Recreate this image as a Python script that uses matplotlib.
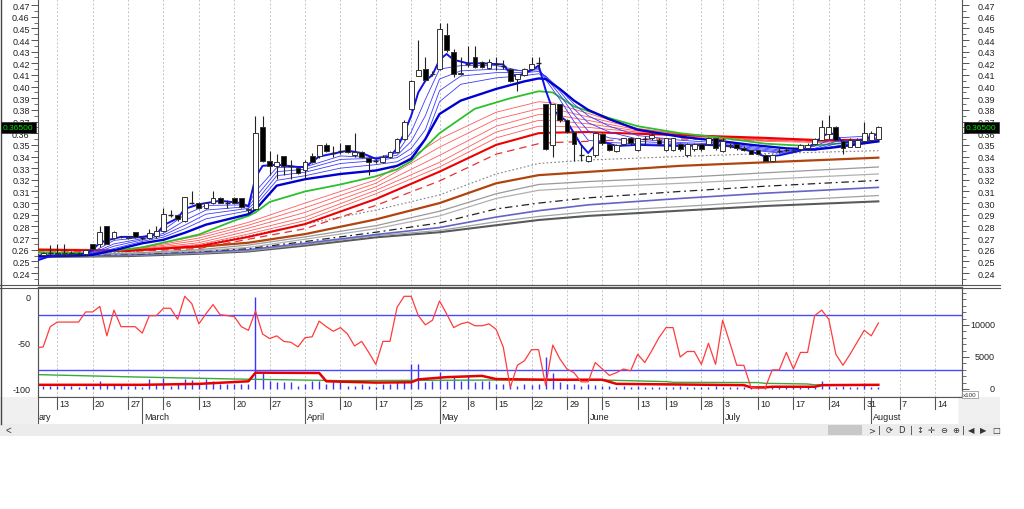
import numpy as np
import matplotlib
matplotlib.use("Agg")
import matplotlib.pyplot as plt
from matplotlib.patches import Rectangle
from matplotlib.lines import Line2D
from matplotlib.ticker import FixedLocator, MultipleLocator, FormatStrFormatter

plt.rcParams['font.family'] = ['Liberation Sans', 'DejaVu Sans']

# ---- daily bars (index 0 = 13 Feb), first bar is index -3 ----
first_day = -3
opens = [0.2550, 0.2555, 0.2570, 0.2570, 0.2560, 0.2570, 0.2560, 0.2560, 0.2650, 0.2650,
         0.2800, 0.2700, 0.2710, 0.2705, 0.2750, 0.2700, 0.2700, 0.2720, 0.2760, 0.2900,
         0.2900, 0.2850, 0.3000, 0.3000, 0.2960, 0.3000, 0.3040, 0.3000, 0.3040, 0.3040,
         0.2940, 0.2950, 0.3650, 0.3360, 0.3315, 0.3405, 0.3320, 0.3300, 0.3280, 0.3405,
         0.3405, 0.3495, 0.3430, 0.3450, 0.3500, 0.3410, 0.3435, 0.3390, 0.3360, 0.3350,
         0.3400, 0.3440, 0.3550, 0.3810, 0.4095, 0.4150, 0.4110, 0.4150, 0.4445, 0.4300,
         0.4110, 0.4195, 0.4255, 0.4210, 0.4160, 0.4195, 0.4180, 0.4150, 0.4065, 0.4100,
         0.4150, 0.4200, 0.3850, 0.3500, 0.3850, 0.3710, 0.3610, 0.3410, 0.3360, 0.3410,
         0.3590, 0.3505, 0.3450, 0.3505, 0.3555, 0.3460, 0.3550, 0.3555, 0.3545, 0.3460,
         0.3460, 0.3505, 0.3410, 0.3465, 0.3505, 0.3505, 0.3555, 0.3450, 0.3500, 0.3505,
         0.3470, 0.3455, 0.3455, 0.3410, 0.3365, 0.3450, 0.3455, 0.3455, 0.3465, 0.3470,
         0.3505, 0.3545, 0.3595, 0.3655, 0.3530, 0.3485, 0.3485, 0.3530, 0.3545, 0.3550]
highs = [0.2570, 0.2580, 0.2640, 0.2650, 0.2650, 0.2590, 0.2580, 0.2600, 0.2650, 0.2800,
         0.2805, 0.2760, 0.2720, 0.2715, 0.2750, 0.2710, 0.2780, 0.2800, 0.2960, 0.2940,
         0.2910, 0.3050, 0.3100, 0.3010, 0.3010, 0.3100, 0.3050, 0.3030, 0.3050, 0.3040,
         0.2960, 0.3750, 0.3750, 0.3450, 0.3420, 0.3405, 0.3370, 0.3310, 0.3370, 0.3430,
         0.3500, 0.3520, 0.3490, 0.3520, 0.3500, 0.3605, 0.3450, 0.3400, 0.3380, 0.3410,
         0.3450, 0.3560, 0.3710, 0.4060, 0.4400, 0.4250, 0.4130, 0.4550, 0.4550, 0.4320,
         0.4250, 0.4350, 0.4350, 0.4220, 0.4240, 0.4250, 0.4230, 0.4160, 0.4110, 0.4160,
         0.4250, 0.4250, 0.3850, 0.3850, 0.3850, 0.3720, 0.3610, 0.3500, 0.3410, 0.3610,
         0.3600, 0.3510, 0.3510, 0.3560, 0.3570, 0.3560, 0.3580, 0.3600, 0.3560, 0.3560,
         0.3560, 0.3520, 0.3520, 0.3520, 0.3520, 0.3570, 0.3560, 0.3560, 0.3520, 0.3510,
         0.3490, 0.3460, 0.3460, 0.3420, 0.3420, 0.3470, 0.3470, 0.3470, 0.3510, 0.3520,
         0.3560, 0.3710, 0.3760, 0.3660, 0.3540, 0.3560, 0.3560, 0.3700, 0.3620, 0.3660]
lows = [0.2540, 0.2550, 0.2550, 0.2560, 0.2550, 0.2550, 0.2550, 0.2550, 0.2600, 0.2620,
        0.2650, 0.2690, 0.2700, 0.2695, 0.2700, 0.2680, 0.2690, 0.2700, 0.2750, 0.2880,
        0.2850, 0.2840, 0.2990, 0.2950, 0.2950, 0.2990, 0.3000, 0.2960, 0.2990, 0.2960,
        0.2910, 0.2940, 0.3350, 0.3240, 0.3210, 0.3240, 0.3210, 0.3250, 0.3210, 0.3340,
        0.3390, 0.3440, 0.3400, 0.3420, 0.3430, 0.3400, 0.3390, 0.3240, 0.3340, 0.3340,
        0.3390, 0.3430, 0.3540, 0.3800, 0.4090, 0.4050, 0.4090, 0.4140, 0.4300, 0.4080,
        0.4100, 0.4170, 0.4160, 0.4160, 0.4150, 0.4140, 0.4150, 0.4040, 0.3965, 0.4090,
        0.4140, 0.4150, 0.3460, 0.3400, 0.3700, 0.3600, 0.3360, 0.3360, 0.3350, 0.3400,
        0.3500, 0.3450, 0.3440, 0.3500, 0.3500, 0.3450, 0.3500, 0.3540, 0.3500, 0.3450,
        0.3450, 0.3450, 0.3400, 0.3450, 0.3450, 0.3500, 0.3460, 0.3440, 0.3470, 0.3460,
        0.3450, 0.3420, 0.3420, 0.3360, 0.3360, 0.3430, 0.3440, 0.3440, 0.3460, 0.3460,
        0.3500, 0.3540, 0.3550, 0.3540, 0.3420, 0.3480, 0.3480, 0.3520, 0.3540, 0.3545]
closes = [0.2560, 0.2570, 0.2570, 0.2560, 0.2570, 0.2560, 0.2560, 0.2600, 0.2610, 0.2755,
          0.2650, 0.2755, 0.2705, 0.2700, 0.2705, 0.2700, 0.2745, 0.2760, 0.2905, 0.2900,
          0.2860, 0.3050, 0.3000, 0.2960, 0.3000, 0.3040, 0.3005, 0.3000, 0.3000, 0.2965,
          0.2950, 0.3605, 0.3360, 0.3320, 0.3355, 0.3320, 0.3320, 0.3260, 0.3355, 0.3355,
          0.3495, 0.3450, 0.3430, 0.3450, 0.3435, 0.3435, 0.3400, 0.3350, 0.3360, 0.3400,
          0.3440, 0.3550, 0.3700, 0.4050, 0.4140, 0.4060, 0.4105, 0.4495, 0.4310, 0.4110,
          0.4120, 0.4195, 0.4165, 0.4165, 0.4210, 0.4195, 0.4180, 0.4050, 0.4110, 0.4150,
          0.4190, 0.4200, 0.3465, 0.3850, 0.3710, 0.3610, 0.3510, 0.3410, 0.3405, 0.3605,
          0.3515, 0.3460, 0.3500, 0.3555, 0.3515, 0.3555, 0.3550, 0.3585, 0.3510, 0.3555,
          0.3555, 0.3465, 0.3505, 0.3505, 0.3465, 0.3555, 0.3470, 0.3535, 0.3490, 0.3470,
          0.3460, 0.3425, 0.3425, 0.3365, 0.3410, 0.3450, 0.3455, 0.3460, 0.3500, 0.3500,
          0.3550, 0.3655, 0.3655, 0.3545, 0.3475, 0.3545, 0.3545, 0.3600, 0.3600, 0.3650]
# volume in units of 100 shares
volume = [500, 520, 400, 520, 400, 400, 260, 520, 520, 1200,
          780, 600, 600, 520, 520, 260, 1560, 780, 1670, 520,
          780, 1560, 1450, 780, 1560, 1300, 780, 850, 780, 780,
          780, 14300, 2450, 1300, 1040, 1040, 1040, 520, 850, 1300,
          1300, 780, 1040, 1040, 520, 520, 780, 520, 260, 780,
          780, 1040, 1300, 3900, 3900, 1040, 1300, 2600, 1300, 2080,
          1300, 2080, 1040, 1300, 1300, 780, 780, 780, 520, 780,
          650, 780, 4950, 2450, 1040, 780, 780, 520, 780, 650,
          520, 520, 360, 520, 360, 520, 260, 260, 260, 260,
          360, 520, 360, 360, 360, 360, 520, 360, 360, 260,
          260, 260, 150, 150, 360, 360, 520, 360, 360, 520,
          360, 1300, 520, 360, 520, 360, 360, 940, 360, 360]
williams_r = [-56, -55, -33, -28, -28, -28, -28, -17, -17, -11,
              -43, -15, -33, -33, -33, -40, -21, -21, -13, -13,
              -25, 0, -8, -30, -19, -9, -20, -21, -22, -33,
              -37, -16, -41, -46, -43, -49, -50, -55, -45, -44,
              -27, -33, -38, -34, -41, -54, -49, -61, -74, -49,
              -49, -12, 0, 0, -21, -31, -26, -5, -19, -34,
              -30, -28, -32, -32, -30, -36, -55, -99, -75, -70,
              -58, -58, -97, -53, -68, -79, -83, -93, -93, -72,
              -79, -86, -83, -79, -81, -63, -72, -59, -45, -34,
              -34, -66, -60, -60, -74, -51, -74, -26, -50, -75,
              -75, -99, -100, -100, -80, -80, -61, -79, -61, -61,
              -21, -15, -25, -63, -75, -63, -50, -37, -43, -29]
days = np.arange(first_day, first_day + len(closes))

# ---- moving averages (bar index, price) ----
fast_days = [-3, -1, 2, 4, 5, 6, 7, 9, 12, 14, 15, 17, 18, 20, 23, 26, 27, 28, 29, 31,
             34, 35, 37, 41, 43, 45, 47, 48, 49, 50, 51, 52, 53, 54, 55, 56, 58, 60, 63, 64,
             65, 67, 68, 69, 70, 72, 74, 75, 76, 77, 79, 82, 88, 92, 95, 98, 100, 102, 105, 107,
             108, 109, 110, 111, 113, 115, 116]
blue_fast = [.2505, .2545, .2555, .2565, .2600, .2660, .2680, .2710, .2710, .2730,
             .2810, .2870, .2950, .2990, .3020, .3000, .2970, .3220, .3320, .3330,
             .3310, .3310, .3400, .3450, .3430, .3380, .3400, .3470, .3600, .3750,
             .3950, .4050, .4100, .4230, .4280, .4230, .4200, .4200, .4190, .4110,
             .4090, .4140, .4180, .3970, .3800, .3700, .3500, .3430, .3500, .3530,
             .3490, .3500, .3490, .3500, .3490, .3445, .3400, .3410, .3450, .3510,
             .3570, .3600, .3590, .3520, .3530, .3570, .3600]

blue_days = [-3, 3, 5, 8, 12, 15, 18, 21, 27, 28, 31, 35, 40, 45, 48, 50, 52, 54, 57, 62,
             66, 68, 69, 71, 73, 75, 78, 82, 88, 94, 98, 103, 107, 110, 116]
blue_2 = [.2525, .2557, .2580, .2680, .2705, .2770, .2900, .2980, .2985, .3100, .3305, .3310,
          .3405, .3390, .3430, .3610, .3890, .4150, .4180, .4180, .4130, .4160, .4060, .3890,
          .3700, .3540, .3520, .3510, .3500, .3490, .3455, .3425, .3490, .3560, .3580]
blue_3 = [.2535, .2556, .2570, .2650, .2695, .2740, .2850, .2940, .2970, .3050, .3270, .3290,
          .3375, .3385, .3410, .3530, .3750, .4065, .4135, .4150, .4135, .4145, .4080, .3930,
          .3760, .3620, .3560, .3530, .3510, .3495, .3465, .3430, .3470, .3530, .3560]
blue_4 = [.2540, .2555, .2565, .2630, .2685, .2725, .2810, .2905, .2955, .3010, .3235, .3265,
          .3340, .3365, .3390, .3470, .3630, .3965, .4090, .4120, .4120, .4130, .4090, .3960,
          .3810, .3690, .3610, .3550, .3520, .3505, .3475, .3440, .3460, .3510, .3550]
blue_5 = [.2545, .2553, .2560, .2610, .2672, .2708, .2780, .2865, .2935, .2980, .3195, .3235,
          .3300, .3330, .3355, .3420, .3550, .3870, .4020, .4075, .4095, .4110, .4090, .3980,
          .3850, .3750, .3660, .3580, .3540, .3515, .3485, .3450, .3455, .3490, .3540]
blue_slow = [.2545, .2550, .2556, .2595, .2655, .2685, .2745, .2815, .2905, .2945, .3150, .3205,
             .3250, .3280, .3320, .3380, .3550, .3765, .3880, .3980, .4045, .4070, .4065, .3980,
             .3880, .3800, .3720, .3630, .3570, .3530, .3500, .3470, .3460, .3480, .3530]

green_days = [-3, 5, 12, 20, 25, 27, 28, 30, 35, 40, 45, 48, 50, 54, 59, 64, 68, 70, 73, 78,
              82, 88, 94, 100, 106, 110, 116]
green_ma = [.2580, .2570, .2620, .2730, .2850, .2890, .2920, .3010, .3100, .3160, .3230, .3290,
            .3360, .3600, .3810, .3900, .3960, .3950, .3830, .3730, .3660, .3600, .3560, .3510,
            .3490, .3510, .3530]

red_days = [-3, 10, 20, 27, 35, 45, 54, 62, 68, 70, 75, 82, 90, 100, 108, 116]
red_1 = [.2595, .2600, .2720, .2835, .3000, .3200, .3550, .3780, .3870, .3860, .3770, .3640, .3570, .3530, .3520, .3550]
red_2 = [.2595, .2598, .2700, .2810, .2960, .3170, .3480, .3720, .3810, .3810, .3740, .3640, .3580, .3540, .3530, .3550]
red_3 = [.2595, .2596, .2680, .2785, .2920, .3140, .3410, .3660, .3760, .3760, .3710, .3630, .3580, .3540, .3530, .3540]
red_4 = [.2595, .2594, .2660, .2760, .2880, .3110, .3350, .3610, .3710, .3710, .3680, .3620, .3580, .3550, .3530, .3540]
red_5 = [.2595, .2592, .2645, .2735, .2850, .3080, .3310, .3560, .3660, .3660, .3650, .3610, .3580, .3550, .3540, .3540]
red_thick = [.2600, .2590, .2630, .2710, .2820, .3035, .3270, .3500, .3600, .3605, .3610, .3595, .3580, .3560, .3540, .3545]
red_dash = [.2590, .2585, .2610, .2690, .2780, .2980, .3190, .3420, .3510, .3520, .3530, .3550, .3550, .3540, .3530, .3530]

long_days = [-3, 10, 20, 27, 35, 45, 54, 62, 68, 75, 88, 100, 116]
gray_dotted = [.2560, .2580, .2640, .2720, .2820, .2940, .3070, .3250, .3340, .3370, .3400, .3425, .3450]
brown_ma = [.2600, .2595, .2625, .2660, .2734, .2860, .3000, .3170, .3240, .3268, .3320, .3350, .3390]
gray_1 = [.2565, .2570, .2600, .2640, .2710, .2806, .2930, .3080, .3160, .3185, .3220, .3260, .3310]
gray_2 = [.2558, .2565, .2590, .2620, .2690, .2780, .2890, .3040, .3110, .3135, .3170, .3205, .3250]
black_dashdot = [.2552, .2560, .2585, .2610, .2670, .2750, .2830, .2950, .3000, .3045, .3100, .3145, .3195]
slate_ma = [.2548, .2555, .2578, .2600, .2655, .2730, .2790, .2880, .2935, .2985, .3040, .3085, .3135]
gray_3 = [.2543, .2550, .2570, .2590, .2645, .2720, .2765, .2840, .2885, .2925, .2970, .3015, .3065]
dark_gray = [.2537, .2545, .2565, .2585, .2635, .2706, .2750, .2810, .2855, .2890, .2935, .2975, .3015]

# volume averages in the lower pane (x100)
vma_red_days = [-3, 12, 20, 27, 28, 37, 38, 45, 50, 51, 55, 60, 62, 69, 77, 79, 97, 98, 100, 101, 107, 108, 116]
vma_red = [650, 650, 800, 1200, 2550, 2500, 1200, 1000, 1050, 1500, 1850, 2050, 1550, 1450, 1450,
           800, 600, 250, 250, 350, 350, 600, 650]
vma_green_days = [-3, 10, 25, 40, 62, 77, 86, 87, 99, 100, 106, 107, 116]
vma_green = [2250, 1900, 1560, 1300, 1400, 1400, 1150, 1040, 1000, 880, 780, 650, 650]
vol_ticks = [0, 5000, 10000]

# date axis
tick_days = [0, 5, 10, 15, 20, 25, 30, 35, 40, 45, 50, 54, 58, 62, 67, 72, 77, 82, 86, 91,
             94, 99, 104, 109, 114, 119, 124]
tick_labels = ['13', '20', '27', '6', '13', '20', '27', '3', '10', '17', '25', '2', '8', '15',
               '22', '29', '5', '13', '19', '28', '3', '10', '17', '24', '31', '7', '14']
month_days = [12, 35, 54, 75, 94, 115]
month_names = ['March', 'April', 'May', 'June', 'July', 'August']
last_price = 0.365

W, H = 1024, 510
fig = plt.figure(figsize=(W / 100, H / 100), dpi=100)


def box(x0, y0, x1, y1):
    return [x0 / W, 1 - y1 / H, (x1 - x0) / W, (y1 - y0) / H]


XL = (-2.73, 127.82)
TXT = '#222222'
SP = '#555555'

# ================= price pane =================
ax = fig.add_axes(box(38, 0, 962, 286))
ax.set_xlim(XL)
ax.set_ylim(0.2297, 0.4752)
for t in tick_days:
    ax.axvline(t, color='#c4c4c4', lw=0.7, ls=(0, (2, 2)), zorder=0)

ma_style = [
    (long_days, dark_gray, dict(color='#5a5a5a', lw=1.5)),
    (long_days, gray_3, dict(color='#9aa4a4', lw=0.9)),
    (long_days, slate_ma, dict(color='#6464c8', lw=1.2)),
    (long_days, black_dashdot, dict(color='#222222', lw=0.9, ls=(0, (6, 3, 1.5, 3)))),
    (long_days, gray_2, dict(color='#b0b0b0', lw=0.9)),
    (long_days, gray_1, dict(color='#9a9a9a', lw=0.9)),
    (long_days, brown_ma, dict(color='#b0440e', lw=1.6)),
    (long_days, gray_dotted, dict(color='#808080', lw=0.8, ls=(0, (1.5, 2)))),
    (red_days, red_dash, dict(color='#e83030', lw=0.9, ls=(0, (6, 4)))),
    (red_days, red_5, dict(color='#ff5a5a', lw=0.6)),
    (red_days, red_4, dict(color='#ff5a5a', lw=0.6)),
    (red_days, red_3, dict(color='#ff5a5a', lw=0.6)),
    (red_days, red_2, dict(color='#ff5a5a', lw=0.6)),
    (red_days, red_1, dict(color='#ff5a5a', lw=0.6)),
    (red_days, red_thick, dict(color='#ee0000', lw=1.5)),
    (green_days, green_ma, dict(color='#2cc02c', lw=1.3)),
    (blue_days, blue_5, dict(color='#3a3aff', lw=0.6)),
    (blue_days, blue_4, dict(color='#3a3aff', lw=0.6)),
    (blue_days, blue_3, dict(color='#3a3aff', lw=0.6)),
    (blue_days, blue_2, dict(color='#3a3aff', lw=0.6)),
    (blue_days, blue_slow, dict(color='#0000d0', lw=1.7)),
    (fast_days, blue_fast, dict(color='#1010e8', lw=1.4)),
]
for xs, ys, kw in ma_style:
    ax.plot(xs, ys, zorder=3, **kw)

for d, o, hi, lo, c in zip(days, opens, highs, lows, closes):
    ax.vlines(d, lo, hi, color='#222222', lw=0.8, zorder=5)
    if abs(c - o) < 1e-6:
        ax.hlines(o, d - 0.36, d + 0.36, color='#222222', lw=1.0, zorder=6)
    else:
        fc = 'white' if c > o else 'black'
        ax.add_patch(Rectangle((d - 0.34, min(o, c)), 0.68, abs(c - o), facecolor=fc,
                               edgecolor='#333333', lw=0.7, zorder=6))

ax.yaxis.set_major_locator(FixedLocator(np.arange(0.24, 0.4701, 0.01)))
ax.yaxis.set_minor_locator(MultipleLocator(0.005))
ax.yaxis.set_major_formatter(FormatStrFormatter('%.2f'))
ax.tick_params(axis='y', which='major', length=5, width=0.7, labelsize=6.5, pad=1,
               colors=SP, labelcolor=TXT, direction='out')
ax.tick_params(axis='y', which='minor', length=3, width=0.6, colors=SP, direction='out')
ax.tick_params(axis='x', bottom=False, labelbottom=False)
for s in ['top', 'right']:
    ax.spines[s].set_visible(False)
for s in ['left', 'bottom']:
    ax.spines[s].set_color(SP)
    ax.spines[s].set_linewidth(0.8)

axr = ax.twinx()
axr.set_ylim(ax.get_ylim())
axr.yaxis.set_major_locator(FixedLocator(np.arange(0.24, 0.4701, 0.01)))
axr.yaxis.set_minor_locator(MultipleLocator(0.005))
axr.yaxis.set_major_formatter(FormatStrFormatter('%.2f'))
axr.tick_params(axis='y', which='major', length=5, width=0.7, labelsize=6.5, pad=6,
                colors=SP, labelcolor=TXT, direction='out')
axr.tick_params(axis='y', which='minor', length=3, width=0.6, colors=SP, direction='out')
for s in ['top', 'left', 'bottom']:
    axr.spines[s].set_visible(False)
axr.spines['right'].set_color(SP)
axr.spines['right'].set_linewidth(0.8)

# last price flags
py_last = 1 - (6 + (0.47 - last_price) * 1165.2) / H
for xf in (3 / W, 966 / W):
    fig.text(xf, py_last, f'{last_price:.5f}', color='#00e000', fontsize=6, ha='left',
             va='center', zorder=20,
             bbox=dict(boxstyle='square,pad=0.25', fc='black', ec='#303030', lw=0.5))

# ================= oscillator / volume pane =================
ax2 = fig.add_axes(box(38, 288.3, 962, 398.3))
ax2v = ax2.twinx()
ax2.set_zorder(ax2v.get_zorder() + 1)
ax2.patch.set_visible(False)
ax2.set_xlim(XL)
ax2v.set_xlim(XL)
ax2.set_ylim(-109.8, 9.8)
ax2v.set_ylim(-1300, 15890)
for t in tick_days:
    ax2v.axvline(t, color='#c4c4c4', lw=0.7, ls=(0, (2, 2)), zorder=0)

ax2v.vlines(days, 0, volume, color='#3535ff', lw=1.0, zorder=2)
ax2v.plot(vma_green_days, vma_green, color='#3aa83a', lw=1.0, zorder=3)
ax2v.plot(vma_red_days, vma_red, color='#e80000', lw=1.8, zorder=3)

ax2.axhline(-20, color='#4848ff', lw=1.0, zorder=2)
ax2.axhline(-80, color='#4848ff', lw=1.0, zorder=2)
ax2.plot(days, williams_r, color='#ff3c3c', lw=0.9, zorder=4)

ax2.set_yticks([0, -50, -100])
ax2.set_yticklabels(['0', '-50', '-100'])
ax2.tick_params(axis='y', length=0, pad=5, labelsize=6.5, labelcolor=TXT)
ax2.tick_params(axis='x', bottom=False, labelbottom=False)
ax2v.set_yticks(vol_ticks)
ax2v.yaxis.set_minor_locator(MultipleLocator(1000))
ax2v.tick_params(axis='y', which='major', length=5, width=0.7, colors=SP, labelright=False)
ax2v.tick_params(axis='y', which='minor', length=3, width=0.6, colors=SP)
# right-aligned volume labels, as in the source chart
for v in vol_ticks:
    ax2v.text(1 + 33 / 924, v, f'{v}', transform=ax2v.get_yaxis_transform(), ha='right',
              va='center', fontsize=6.5, color=TXT, clip_on=False)
for a in (ax2, ax2v):
    for s in a.spines.values():
        s.set_color(SP)
        s.set_linewidth(0.8)
fig.text(963 / W, 1 - 395.5 / H, 'x100', fontsize=4.5, color='#333333', ha='left', va='center',
         bbox=dict(boxstyle='square,pad=0.15', fc='white', ec='#888888', lw=0.5))

# ================= date axis =================
fig.patches.append(Rectangle((0, 1 - 425 / H), 38 / W, 27 / H, transform=fig.transFigure,
                             fc='#f0f0f0', ec='none', zorder=0))
fig.patches.append(Rectangle((959 / W, 1 - 425 / H), 41 / W, 27 / H, transform=fig.transFigure,
                             fc='#f0f0f0', ec='none', zorder=0))
ax3 = fig.add_axes(box(38, 398.3, 959, 425))
ax3.set_xlim(XL[0], 127.39)
ax3.set_ylim(0, 1)
ax3.set_xticks([])
ax3.set_yticks([])
for s in ['top', 'bottom']:
    ax3.spines[s].set_visible(False)
for s in ['left', 'right']:
    ax3.spines[s].set_color(SP)
    ax3.spines[s].set_linewidth(0.8)
for t, lab in zip(tick_days, tick_labels):
    ax3.plot([t, t], [0.55, 1], color=SP, lw=0.8)
    ax3.text(t + 0.3, 0.78, lab, fontsize=6.5, color=TXT, ha='left', va='center')
for t, lab in zip(month_days, month_names):
    ax3.plot([t, t], [0, 1], color=SP, lw=0.8)
    ax3.text(t + 0.3, 0.27, lab, fontsize=6.5, color=TXT, ha='left', va='center')
ax3.text(XL[0] + 0.1, 0.27, 'ary', fontsize=6.5, color=TXT, ha='left', va='center')

# ================= frame lines & scroll bar =================
fig.lines.append(Line2D([0, 1000 / W], [1 - 286 / H] * 2, transform=fig.transFigure,
                        color=SP, lw=0.8))
fig.lines.append(Line2D([0, 1000 / W], [1 - 288.5 / H] * 2, transform=fig.transFigure,
                        color=SP, lw=0.8))
fig.lines.append(Line2D([0.6 / W] * 2, [1 - 425 / H, 1], transform=fig.transFigure,
                        color='#444444', lw=1.0))
fig.patches.append(Rectangle((0, 1 - 437 / H), 1000 / W, 12 / H, transform=fig.transFigure,
                             fc='#ececec', ec='none', zorder=0))
fig.patches.append(Rectangle((828 / W, 1 - 436 / H), 34 / W, 10 / H, transform=fig.transFigure,
                             fc='#c8c8c8', ec='none', zorder=1))
fig.text(5 / W, 1 - 431 / H, '<', fontsize=7, color='#333333', va='center')
icons = ['>', '|', '\u27f3', 'D', '|', '\u2195', '\u271b', '\u2296', '\u2295', '|',
         '\u25c0', '\u25b6', '\u25a1']
icon_x = [868, 878, 886, 898, 910, 916, 928, 940, 952, 962, 968, 980, 992]
for ic, xi in zip(icons, icon_x):
    fig.text(xi / W, 1 - 431 / H, ic, fontsize=6, color='#333333', va='center', ha='left',
             family=['DejaVu Sans'])

fig.savefig('out.png', dpi=100)
